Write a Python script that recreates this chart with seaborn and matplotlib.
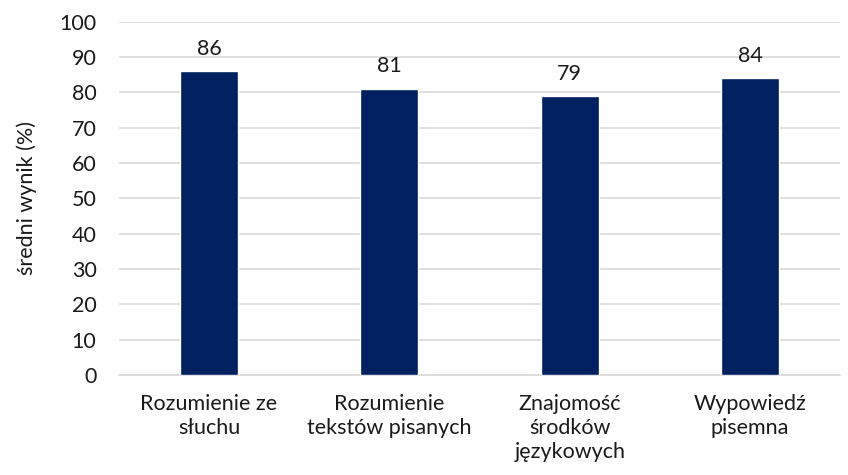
import matplotlib
matplotlib.use("Agg")
import matplotlib.pyplot as plt
import seaborn as sns
import pandas as pd

# data
categories = ['Rozumienie ze\nsłuchu', 'Rozumienie\ntekstów pisanych',
              'Znajomość\nśrodków\njęzykowych', 'Wypowiedź\npisemna']
scores = [86, 81, 79, 84]

df = pd.DataFrame({'cat': categories, 'score': scores})

sns.set_theme(style='white')
plt.rcParams['font.family'] = ['Lato', 'DejaVu Sans']
fs = 15.5

fig = plt.figure(figsize=(8.48, 4.75), dpi=100)
ax = fig.add_axes([0.14, 0.2105, 0.851, 0.7435])

sns.barplot(data=df, x='cat', y='score', color='#002060', width=0.32,
            saturation=1, ax=ax, zorder=3)
ax.bar_label(ax.containers[0], fontsize=fs, padding=9, color='#1a1a1a')

ax.set_ylim(0, 100)
ax.set_yticks(range(0, 101, 10))
ax.set_xlim(-0.5, 3.5)
ax.yaxis.grid(True, color='#d9d9d9', linewidth=1.2, zorder=0)
for s in ['top', 'right', 'left']:
    ax.spines[s].set_visible(False)
ax.spines['bottom'].set_color('#d9d9d9')
ax.spines['bottom'].set_linewidth(1.2)
ax.tick_params(axis='both', length=0, labelsize=fs, colors='#1a1a1a')
ax.tick_params(axis='x', pad=14)
ax.tick_params(axis='y', pad=16)
for t in ax.get_xticklabels():
    t.set_linespacing(1.25)
ax.set_xlabel('')
ax.set_ylabel('średni wynik (%)', fontsize=fs, color='#1a1a1a', labelpad=16)

fig.savefig('out.png', dpi=100)
